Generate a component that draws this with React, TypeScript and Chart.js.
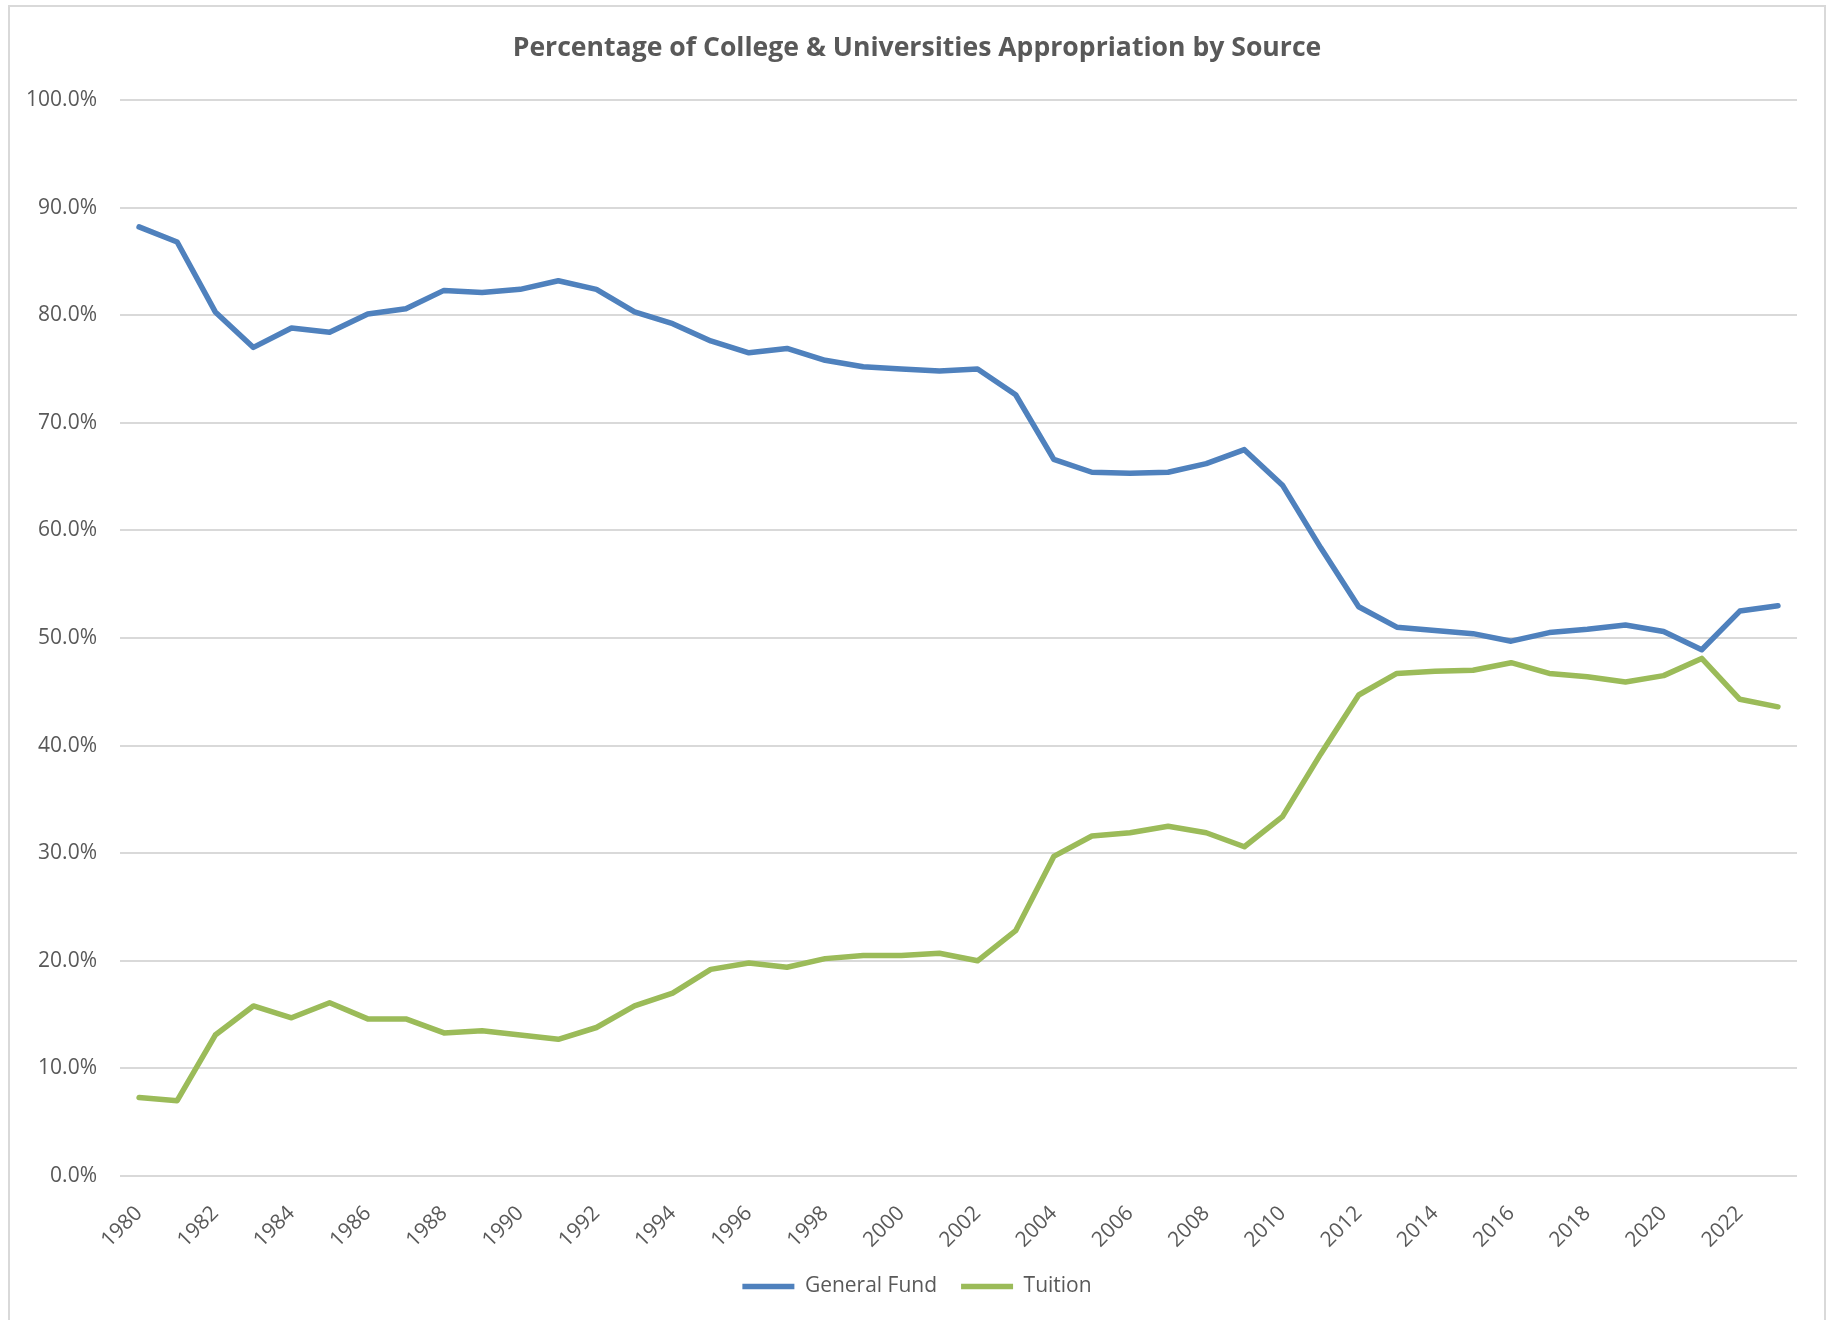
import React, { useEffect, useRef } from "react";
import { Chart, registerables } from "chart.js";

Chart.register(...registerables);

const years = [
  "1980", "1981", "1982", "1983", "1984", "1985", "1986", "1987", "1988", "1989",
  "1990", "1991", "1992", "1993", "1994", "1995", "1996", "1997", "1998", "1999",
  "2000", "2001", "2002", "2003", "2004", "2005", "2006", "2007", "2008", "2009",
  "2010", "2011", "2012", "2013", "2014", "2015", "2016", "2017", "2018", "2019",
  "2020", "2021", "2022", "2023",
];

const generalFund = [
  88.2, 86.8, 80.3, 77.0, 78.8, 78.4, 80.1, 80.6, 82.3, 82.1,
  82.4, 83.2, 82.4, 80.3, 79.2, 77.6, 76.5, 76.9, 75.8, 75.2,
  75.0, 74.8, 75.0, 72.6, 66.6, 65.4, 65.3, 65.4, 66.2, 67.5,
  64.2, 58.4, 52.9, 51.0, 50.7, 50.4, 49.7, 50.5, 50.8, 51.2,
  50.6, 48.9, 52.5, 53.0,
];

const tuition = [
  7.3, 7.0, 13.1, 15.8, 14.7, 16.1, 14.6, 14.6, 13.3, 13.5,
  13.1, 12.7, 13.8, 15.8, 17.0, 19.2, 19.8, 19.4, 20.2, 20.5,
  20.5, 20.7, 20.0, 22.8, 29.7, 31.6, 31.9, 32.5, 31.9, 30.6,
  33.4, 39.2, 44.7, 46.7, 46.9, 47.0, 47.7, 46.7, 46.4, 45.9,
  46.5, 48.1, 44.3, 43.6,
];

const seriesNames = ["General Fund", "Tuition"];
const titleText = "Percentage of College & Universities Appropriation by Source";

const TEXT = "#595959";
const FONT = "'Open Sans', 'DejaVu Sans', sans-serif";

// let the rotated x labels overflow their (narrow) scale box instead of being clipped
const unclipXLabels = {
  id: "unclipXLabels",
  afterLayout(chart: any) {
    const s = chart.scales.x;
    if (s) s.bottom = s.top + 160;
  },
};

export default function App() {
  const ref = useRef<HTMLCanvasElement | null>(null);

  useEffect(() => {
    if (!ref.current) return;
    const chart = new Chart(ref.current, {
      type: "line",
      data: {
        labels: years,
        datasets: [
          {
            label: seriesNames[0],
            data: generalFund,
            borderColor: "#4F81BD",
            backgroundColor: "#4F81BD",
            borderWidth: 5.5,
            pointRadius: 0,
            pointHoverRadius: 0,
            tension: 0,
            borderCapStyle: "round",
            borderJoinStyle: "round",
            fill: false,
          },
          {
            label: seriesNames[1],
            data: tuition,
            borderColor: "#9BBB59",
            backgroundColor: "#9BBB59",
            borderWidth: 5.5,
            pointRadius: 0,
            pointHoverRadius: 0,
            tension: 0,
            borderCapStyle: "round",
            borderJoinStyle: "round",
            fill: false,
          },
        ],
      },
      plugins: [unclipXLabels],
      options: {
        responsive: false,
        animation: false,
        layout: { padding: { top: 0, left: 0, right: 0, bottom: 16 } },
        plugins: {
          tooltip: { enabled: false },
          title: {
            display: true,
            text: titleText,
            color: TEXT,
            font: { family: FONT, size: 26.6, weight: "bold", lineHeight: 1.2 },
            padding: { top: 25, bottom: 36 },
          },
          legend: {
            display: true,
            position: "bottom",
            labels: {
              usePointStyle: true,
              pointStyle: "line",
              pointStyleWidth: 52,
              color: TEXT,
              padding: 24,
              font: { family: FONT, size: 21 },
            },
          },
        },
        scales: {
          x: {
            offset: true,
            grid: { display: false, drawTicks: false },
            border: { display: false },
            ticks: {
              autoSkip: false,
              maxRotation: 45,
              minRotation: 45,
              color: TEXT,
              padding: 25,
              font: { family: FONT, size: 21 },
              callback: function (_v: any, i: number) {
                return i % 2 === 0 ? years[i] : "";
              },
            },
            afterFit: (s: any) => {
              s.height = 76;
            },
          },
          y: {
            min: 0,
            max: 100,
            grid: { color: "#d9d9d9", lineWidth: 2, drawTicks: false },
            border: { display: false },
            ticks: {
              stepSize: 10,
              color: TEXT,
              padding: 23,
              font: { family: FONT, size: 21 },
              callback: (v: any) => Number(v).toFixed(1) + "%",
            },
            afterFit: (s: any) => {
              s.width = 110;
            },
          },
          spacer: {
            type: "linear",
            position: "right",
            display: true,
            grid: { display: false, drawTicks: false },
            border: { display: false },
            ticks: { display: false },
            afterFit: (s: any) => {
              s.width = 27;
            },
          },
        },
      },
    });
    return () => chart.destroy();
  }, []);

  return (
    <div
      style={{
        position: "absolute",
        left: 8,
        top: 5,
        width: 1818,
        height: 1330,
        border: "2px solid #d9d9d9",
        boxSizing: "border-box",
        background: "#fff",
      }}
    >
      <canvas ref={ref} width={1814} height={1316} style={{ display: "block" }} />
    </div>
  );
}
